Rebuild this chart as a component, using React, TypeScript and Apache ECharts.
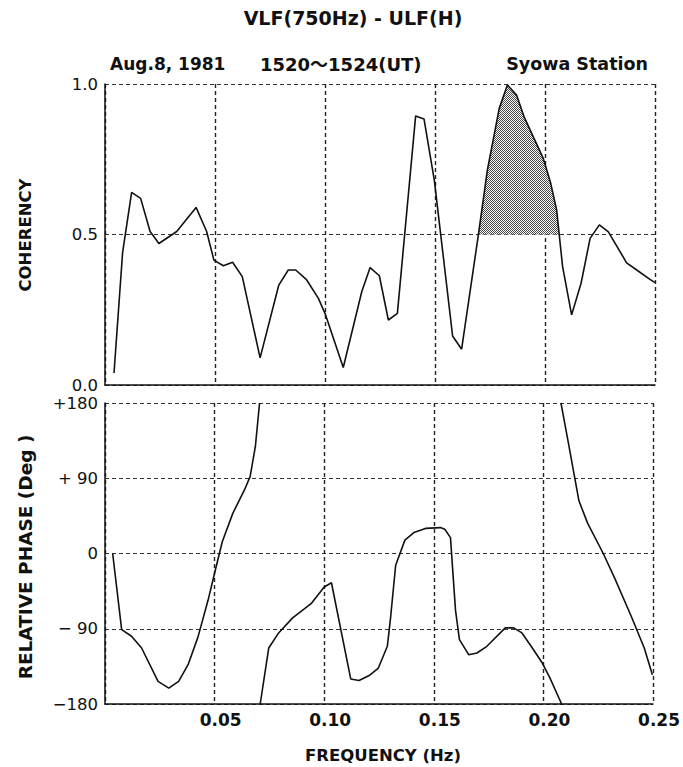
import React, { useEffect, useRef } from 'react';
import * as echarts from 'echarts';

// Coherency vs frequency (Hz)
const coherency: [number, number][] = [
  [0.0041, 0.04], [0.008, 0.44], [0.0121, 0.64], [0.0162, 0.62], [0.0205, 0.51],
  [0.0245, 0.47], [0.0326, 0.51], [0.0414, 0.59], [0.0462, 0.51], [0.0495, 0.415],
  [0.0538, 0.396], [0.058, 0.408], [0.0624, 0.36], [0.0705, 0.09], [0.079, 0.332],
  [0.0833, 0.382], [0.0867, 0.382], [0.0917, 0.349], [0.097, 0.288], [0.1, 0.238],
  [0.1083, 0.058], [0.1167, 0.31], [0.1205, 0.39], [0.1247, 0.363], [0.1288, 0.216],
  [0.1329, 0.238], [0.1412, 0.894], [0.145, 0.884], [0.1497, 0.68], [0.158, 0.163],
  [0.1621, 0.119], [0.1697, 0.498], [0.1738, 0.714], [0.1792, 0.919], [0.1829, 0.997],
  [0.1871, 0.963], [0.1905, 0.891], [0.1992, 0.753], [0.2026, 0.67], [0.2053, 0.581],
  [0.208, 0.393], [0.2121, 0.233], [0.2164, 0.338], [0.2205, 0.487], [0.2247, 0.532],
  [0.2288, 0.509], [0.2371, 0.406], [0.2417, 0.382], [0.2477, 0.351], [0.25, 0.34],
];

// Shaded band (coherency above 0.5 around the 0.18 Hz peak)
const shadeLevel = 0.5;
const shadeStart = 0.1697;
const shadeEnd = 0.2065;

// Relative phase (deg), three branches (wrapping at ±180)
const phaseBranch1: [number, number][] = [
  [0.0035, 0], [0.0076, -91], [0.0121, -99], [0.0167, -113], [0.0242, -153],
  [0.0291, -161], [0.0336, -153], [0.0379, -133], [0.0424, -100], [0.047, -56],
  [0.0505, -18], [0.0535, 14], [0.0583, 48], [0.0636, 76], [0.0662, 92],
  [0.0686, 128], [0.0705, 180],
];
const phaseBranch2: [number, number][] = [
  [0.0708, -180], [0.0747, -113], [0.0792, -95], [0.0856, -77], [0.094, -60],
  [0.1, -40], [0.1033, -35], [0.1121, -150], [0.1159, -152], [0.1205, -146],
  [0.1247, -137], [0.1288, -111], [0.1303, -76], [0.1326, -14], [0.1368, 16],
  [0.1409, 25], [0.1462, 30], [0.153, 31], [0.155, 29], [0.1576, 19],
  [0.1599, -68], [0.1617, -103], [0.1659, -121], [0.1697, -119], [0.1742, -111],
  [0.1826, -89], [0.1864, -89], [0.1902, -95], [0.1944, -111], [0.1995, -131],
  [0.203, -149], [0.2083, -180],
];
const phaseBranch3: [number, number][] = [
  [0.208, 180], [0.2114, 132], [0.2162, 63], [0.2202, 36], [0.2273, 0],
  [0.2326, -30], [0.2402, -76], [0.246, -113], [0.2497, -145],
];

const phaseTickLabels: Record<string, string> = {
  '180': '+180', '90': '+ 90', '0': '0', '-90': '\u2212 90', '-180': '\u2212180',
};

const TITLE = 'VLF(750Hz) - ULF(H)';
const DATE_TEXT = 'Aug.8, 1981';
const TIME_TEXT = '1520\u301C1524(UT)';
const STATION_TEXT = 'Syowa Station';
const X_NAME = 'FREQUENCY (Hz)';
const Y1_NAME = 'COHERENCY';
const Y2_NAME = 'RELATIVE PHASE (Deg )';

function makeStipple(): any {
  const c = document.createElement('canvas');
  c.width = 2;
  c.height = 2;
  const ctx = c.getContext('2d')!;
  ctx.fillStyle = '#ffffff';
  ctx.fillRect(0, 0, 2, 2);
  ctx.fillStyle = '#444444';
  ctx.fillRect(0, 0, 1, 1);
  ctx.fillRect(1, 1, 1, 1);
  return { image: c.toDataURL(), repeat: 'repeat', imageWidth: 2, imageHeight: 2 };
}

export default function App() {
  const ref = useRef<HTMLDivElement>(null);
  useEffect(() => {
    document.body.style.margin = '0';
    const chart = echarts.init(ref.current!, null, { renderer: 'svg' });
    const shadeData: [number, number][] = [
      [shadeStart, shadeLevel],
      ...coherency.filter((p) => p[0] > shadeStart && p[0] < shadeEnd && p[1] >= shadeLevel),
      [shadeEnd, shadeLevel],
    ];
    const ink = '#111';
    const tickFont = { fontFamily: 'DejaVu Sans', fontSize: 16.5, lineHeight: 16, color: ink };
    const gridV = { show: true, lineStyle: { type: [4, 3] as any, color: '#222', width: 1.4 } };
    const gridH = { show: true, lineStyle: { type: [4, 3] as any, color: '#333', width: 1 } };
    const axisLine = { show: true, onZero: false, lineStyle: { color: ink, width: 1.5 } };
    const option: any = {
      animation: false,
      backgroundColor: '#fff',
      grid: [
        { left: 105, top: 84, width: 550, height: 301 },
        { left: 105, top: 403, width: 550, height: 301 },
      ],
      xAxis: [
        {
          gridIndex: 0, type: 'value', min: 0, max: 0.25, interval: 0.05,
          axisLine, axisTick: { show: false }, axisLabel: { show: false }, splitLine: gridV,
        },
        {
          gridIndex: 1, type: 'value', min: 0, max: 0.25, interval: 0.05,
          axisLine, axisTick: { show: false },
          axisLabel: {
            ...tickFont, fontSize: 17, lineHeight: 18, fontWeight: 'bold', margin: 7, padding: [0, 0, 0, 12],
            formatter: (v: number) => (v === 0 ? '' : v.toFixed(2)),
          },
          splitLine: gridV,
        },
      ],
      yAxis: [
        {
          gridIndex: 0, type: 'value', min: 0, max: 1, interval: 0.5,
          axisLine, axisTick: { show: false },
          axisLabel: { ...tickFont, margin: 7, formatter: (v: number) => v.toFixed(1) },
          splitLine: gridH,
        },
        {
          gridIndex: 1, type: 'value', min: -180, max: 180, interval: 90,
          axisLine, axisTick: { show: false },
          axisLabel: { ...tickFont, margin: 7, formatter: (v: number) => phaseTickLabels[String(v)] ?? String(v) },
          splitLine: gridH,
        },
      ],
      series: [
        {
          type: 'line', xAxisIndex: 0, yAxisIndex: 0, data: shadeData, showSymbol: false,
          lineStyle: { width: 0 }, areaStyle: { color: makeStipple(), origin: shadeLevel, opacity: 1 },
          z: 1, silent: true,
        },
        {
          type: 'line', xAxisIndex: 0, yAxisIndex: 0, data: coherency, showSymbol: false,
          lineStyle: { color: ink, width: 1.6 }, z: 3,
        },
        {
          type: 'line', xAxisIndex: 1, yAxisIndex: 1, data: phaseBranch1, showSymbol: false,
          lineStyle: { color: ink, width: 1.6 }, z: 3,
        },
        {
          type: 'line', xAxisIndex: 1, yAxisIndex: 1, data: phaseBranch2, showSymbol: false,
          lineStyle: { color: ink, width: 1.6 }, z: 3,
        },
        {
          type: 'line', xAxisIndex: 1, yAxisIndex: 1, data: phaseBranch3, showSymbol: false,
          lineStyle: { color: ink, width: 1.6 }, z: 3,
        },
      ],
      graphic: [
        {
          type: 'text', x: 353, y: 18,
          style: { text: TITLE, fontFamily: 'DejaVu Sans', fontWeight: 'bold', fontSize: 19, fill: ink, align: 'center', verticalAlign: 'middle' },
        },
        {
          type: 'text', x: 110, y: 64,
          style: { text: DATE_TEXT, fontFamily: 'DejaVu Sans', fontWeight: 'bold', fontSize: 17, fill: ink, align: 'left', verticalAlign: 'middle' },
        },
        {
          type: 'text', x: 260, y: 64,
          style: { text: TIME_TEXT, fontFamily: 'DejaVu Sans, Noto Sans CJK JP', fontWeight: 'bold', fontSize: 18, fill: ink, align: 'left', verticalAlign: 'middle' },
        },
        {
          type: 'text', x: 648, y: 64,
          style: { text: STATION_TEXT, fontFamily: 'DejaVu Sans', fontWeight: 'bold', fontSize: 17.5, fill: ink, align: 'right', verticalAlign: 'middle' },
        },
        {
          type: 'text', x: 25, y: 235, rotation: Math.PI / 2,
          style: { text: Y1_NAME, fontFamily: 'DejaVu Sans', fontWeight: 'bold', fontSize: 16.5, fill: ink, align: 'center', verticalAlign: 'middle' },
        },
        {
          type: 'text', x: 25, y: 557, rotation: Math.PI / 2,
          style: { text: Y2_NAME, fontFamily: 'DejaVu Sans', fontWeight: 'bold', fontSize: 18.5, fill: ink, align: 'center', verticalAlign: 'middle' },
        },
        {
          type: 'text', x: 383, y: 755,
          style: { text: X_NAME, fontFamily: 'DejaVu Sans', fontWeight: 'bold', fontSize: 16.5, fill: ink, align: 'center', verticalAlign: 'middle' },
        },
      ],
    };
    chart.setOption(option);
    return () => chart.dispose();
  }, []);
  return <div ref={ref} style={{ width: 683, height: 767 }} />;
}
